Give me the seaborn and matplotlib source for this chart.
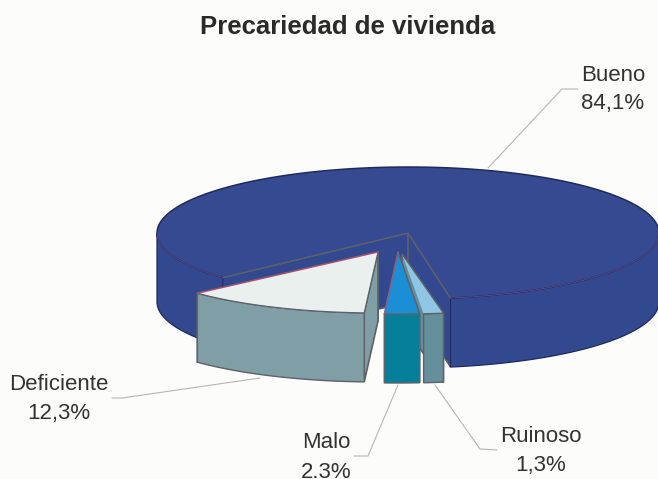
import numpy as np
import seaborn as sns
import matplotlib.pyplot as plt

sns.set_theme(style="white")
plt.rcParams['font.family'] = ['Liberation Sans', 'DejaVu Sans']

TITLE = 'Precariedad de vivienda'
# order is the way round the pie, starting at the left cut of Bueno
labels = ['Bueno', 'Ruinoso', 'Malo', 'Deficiente']
shares = [84.1, 1.3, 2.3, 12.3]
share_txt = ['84,1%', '1,3%', '2.3%', '12,3%']

# look of each slice
top_colors = ['#364a92', '#8fc6e6', '#1b8fd6', '#e9f0ee']
side_colors = ['#32488f', '#668f9c', '#067f9b', '#7f9ea5']
centers = [(408, 233), (402, 254), (398, 252), (378, 252)]
radii = [(251, 66), (245, 60), (245, 62), (245, 61)]
DEPTH = 69
START = 47.5  # degrees from straight down, going clockwise
EDGE = '#5f6068'
RIM = '#1f2b5e'
SEAM = '#5d4a86'
BG = '#fcfcfa'


def rim(c, r, a0, a1):
    phi = np.radians(np.linspace(a0, a1, 120))
    return np.column_stack([c[0] - r[0] * np.sin(phi), c[1] + r[1] * np.cos(phi)])


fig = plt.figure(figsize=(6.58, 4.79), dpi=100, facecolor=BG)
ax = fig.add_axes([0, 0, 1, 1])
ax.set_xlim(0, 658)
ax.set_ylim(479, 0)
ax.axis('off')

ends = START + np.cumsum(shares) * 3.6
starts = np.r_[START, ends[:-1]]


def slab(i):
    c, r = centers[i], radii[i]
    edge = rim(c, r, starts[i], ends[i])
    # side wall, only the arc facing the viewer
    if i == 0:
        arcs = [rim(c, r, starts[i], 90), rim(c, r, 270, ends[i])]
    else:
        arcs = [edge]
    return c, r, edge, arcs


# leader lines go under the pie
line_prop = dict(color='#b4b7b2', lw=0.8, zorder=1)
ax.plot([578, 562, 488], [89, 89, 168], **line_prop)
ax.plot([112, 122, 260], [398, 398, 378], **line_prop)
ax.plot([354, 368, 398], [456, 456, 385], **line_prop)
ax.plot([497, 480, 435], [450, 449, 385], **line_prop)

z = 2
# Bueno
c, r, edge, arcs = slab(0)
a = np.array(c)
first, last = edge[0], edge[-1]
for p in (first, last):
    ax.fill([a[0], p[0], p[0], a[0]], [a[1], p[1], p[1] + DEPTH, a[1] + DEPTH],
            fc=side_colors[0], ec=EDGE, lw=1.1, zorder=z)
for arc in arcs:
    wall = np.vstack([arc, (arc + [0, DEPTH])[::-1]])
    ax.fill(wall[:, 0], wall[:, 1], fc=side_colors[0], ec=RIM, lw=0.9, zorder=z)
top = np.vstack([a, edge])
ax.fill(top[:, 0], top[:, 1], fc=top_colors[0], ec='none', zorder=z + 1)
ax.plot(edge[:, 0], edge[:, 1], color=RIM, lw=1.1, zorder=z + 1)
ax.plot([first[0], a[0], last[0]], [first[1], a[1], last[1]], color=EDGE, lw=1.0, zorder=z + 1)
# seam between top and wall is faint where it faces the viewer
for arc in arcs:
    ax.plot(arc[:, 0], arc[:, 1], color=SEAM, lw=0.7, zorder=z + 1)

z = 4
# the three pulled out slices, from the right to the left
for i in [1, 2, 3]:
    c, r, edge, arcs = slab(i)
    a = np.array(c)
    first, last = edge[0], edge[-1]
    # inner face on the side of the opening
    p = last if i == 3 else first
    ax.fill([a[0], p[0], p[0], a[0]], [a[1], p[1], p[1] + DEPTH, a[1] + DEPTH],
            fc=side_colors[i], ec=EDGE, lw=1.2, zorder=z)
    if i == 3:
        p = first
        ax.fill([a[0], p[0], p[0], a[0]], [a[1], p[1], p[1] + DEPTH, a[1] + DEPTH],
                fc=side_colors[i], ec=EDGE, lw=1.2, zorder=z)
    wall = np.vstack([edge, (edge + [0, DEPTH])[::-1]])
    ax.fill(wall[:, 0], wall[:, 1], fc=side_colors[i], ec=EDGE, lw=1.0, zorder=z + 1)
    top = np.vstack([a, edge])
    ax.fill(top[:, 0], top[:, 1], fc=top_colors[i], ec='none', zorder=z + 2)
    ax.plot(top[:, 0], top[:, 1], color=EDGE, lw=0.9, zorder=z + 2)
    if i == 3:
        ax.plot([a[0], edge[-1, 0]], [a[1], edge[-1, 1]], color='#a8506e', lw=1.0, zorder=z + 3)
    if i == 2:
        ax.plot([a[0], edge[-1, 0]], [a[1], edge[-1, 1]], color='#9a5a70', lw=1.0, zorder=z + 3)
    z += 4

ax.text(348, 27, TITLE, ha='center', va='center', fontsize=18.5, fontweight='bold', color='#2a2a2a')

# name and share of each slice
positions = [(613, 75, 103), (541, 436, 465), (326, 443, 472), (59, 385, 413)]
for name, txt, (x, y0, y1) in zip(labels, share_txt, positions):
    ax.text(x, y0, name, ha='center', va='center', fontsize=16, color='#333333')
    ax.text(x, y1, txt, ha='center', va='center', fontsize=16, color='#333333')

fig.savefig('out.png', dpi=100, facecolor=BG)
